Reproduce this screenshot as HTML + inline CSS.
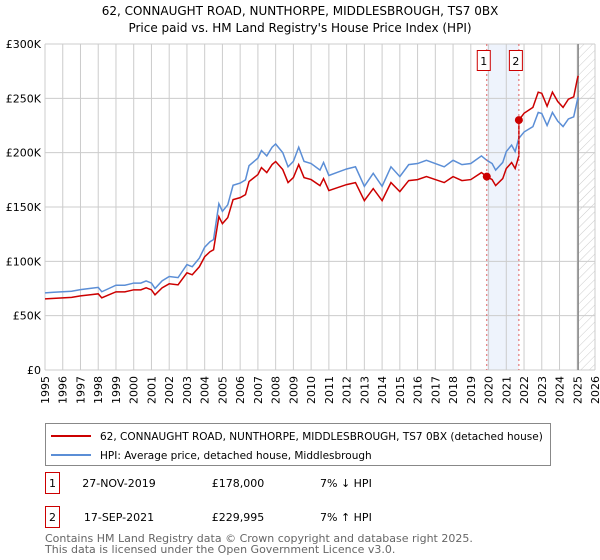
<!DOCTYPE html>
<html><head><meta charset="utf-8"><style>
body{margin:0;background:#fff;}
svg{display:block;font-family:"DejaVu Sans","Liberation Sans",sans-serif;}
</style></head><body>
<svg width="600" height="560" viewBox="0 0 600 560">
<text x="300" y="15" text-anchor="middle" font-size="12">62, CONNAUGHT ROAD, NUNTHORPE, MIDDLESBROUGH, TS7 0BX</text>
<text x="300" y="32" text-anchor="middle" font-size="12">Price paid vs. HM Land Registry's House Price Index (HPI)</text>
<defs><pattern id="hatch" width="6" height="6" patternUnits="userSpaceOnUse" patternTransform="rotate(45)"><line x1="0" y1="0" x2="0" y2="6" stroke="#ccc" stroke-width="1"/></pattern></defs>
<g id="grid"></g>
<g id="marks"></g>
<g id="axes"></g>
<g>
<rect x="45.5" y="423.5" width="505" height="42" fill="#fff" stroke="#888"/>
<line x1="51" y1="436" x2="91" y2="436" stroke="#cc0000" stroke-width="2"/>
<text x="100" y="440" font-size="10.5">62, CONNAUGHT ROAD, NUNTHORPE, MIDDLESBROUGH, TS7 0BX (detached house)</text>
<line x1="51" y1="455" x2="91" y2="455" stroke="#5b8ed6" stroke-width="2"/>
<text x="100" y="459" font-size="10.5">HPI: Average price, detached house, Middlesbrough</text>
</g>
<g font-size="11">
<rect x="45.5" y="472.5" width="14" height="21" fill="#fff" stroke="#cc0000"/>
<text x="52.5" y="487" text-anchor="middle">1</text>
<text x="119" y="487" text-anchor="middle">27-NOV-2019</text>
<text x="238" y="487" text-anchor="middle">£178,000</text>
<text x="320" y="487">7% ↓ HPI</text>
<rect x="45.5" y="506.5" width="14" height="21" fill="#fff" stroke="#cc0000"/>
<text x="52.5" y="521" text-anchor="middle">2</text>
<text x="119" y="521" text-anchor="middle">17-SEP-2021</text>
<text x="238" y="521" text-anchor="middle">£229,995</text>
<text x="320" y="521">7% ↑ HPI</text>
</g>
<text x="45" y="542" font-size="11" fill="#666">Contains HM Land Registry data © Crown copyright and database right 2025.</text>
<text x="45" y="553" font-size="11" fill="#666">This data is licensed under the Open Government Licence v3.0.</text>
</svg>
<script>
const hpiYears=[1995,1995.5,1996,1996.5,1997,1997.5,1998,1998.2,1998.6,1999,1999.5,2000,2000.4,2000.7,2001,2001.2,2001.6,2002,2002.5,2003,2003.3,2003.7,2004,2004.3,2004.5,2004.8,2005,2005.3,2005.6,2006,2006.3,2006.5,2007,2007.2,2007.5,2007.8,2008,2008.4,2008.7,2009,2009.3,2009.6,2010,2010.5,2010.7,2011,2011.5,2012,2012.5,2013,2013.5,2014,2014.5,2015,2015.5,2016,2016.5,2017,2017.5,2018,2018.5,2019,2019.6,2019.9,2020.2,2020.4,2020.8,2021,2021.3,2021.5,2021.7,2022,2022.5,2022.8,2023,2023.3,2023.6,2023.9,2024.2,2024.5,2024.8,2025,2025.05];
const hpiValues=[71,71.5,72,72.5,74,75,76,72,75,78,78,80,80,82,80,75,82,86,85,97,95,103,113,118,120,153,146,152,170,172,175,188,195,202,197,205,208,200,187,192,205,192,190,184,191,179,182,185,187,169,181,169,187,178,189,190,193,190,187,193,189,190,197,193,190,184,191,201,207,201,213,219,224,237,236,225,237,229,224,231,233,248,251];
const saleYears=[2019.9,2021.71];
const salePrices=[178,229.995];
const yTicks=[0,50,100,150,200,250,300];
const yTickLabels=["£0","£50K","£100K","£150K","£200K","£250K","£300K"];
const xTicks=[1995,1996,1997,1998,1999,2000,2001,2002,2003,2004,2005,2006,2007,2008,2009,2010,2011,2012,2013,2014,2015,2016,2017,2018,2019,2020,2021,2022,2023,2024,2025,2026];

const X0=45,X1=595,Y0=370,Y1=44;
const xs=y=>X0+(y-1995)/(2026-1995)*(X1-X0);
const ys=v=>Y0-v/300*(Y0-Y1);
const NS="http://www.w3.org/2000/svg";
function mk(tag,attrs,parent){const e=document.createElementNS(NS,tag);for(const k in attrs)e.setAttribute(k,attrs[k]);parent.appendChild(e);return e;}
const grid=document.getElementById('grid'),marks=document.getElementById('marks'),axes=document.getElementById('axes');

let r=mk('rect',{x:xs(saleYears[0]),y:Y1,width:xs(saleYears[1])-xs(saleYears[0]),height:Y0-Y1,fill:'#eef3fc'},grid);


r=mk('rect',{x:xs(2025.05),y:Y1,width:X1-xs(2025.05),height:Y0-Y1,fill:'url(#hatch)'},grid);



xTicks.forEach(t=>{
 const l=mk('line',{x1:xs(t),x2:xs(t),y1:Y1,y2:Y0,stroke:'#ccc'},grid);
 
 
 const tx=mk('text',{x:0,y:0,'font-size':11,'text-anchor':'end',transform:`translate(${xs(t)+4},${Y0+6}) rotate(-90)`},axes);
 tx.textContent=t;
 
 
});
yTicks.forEach((t,i)=>{
 const l=mk('line',{x1:X0,x2:X1,y1:ys(t),y2:ys(t),stroke:'#ccc'},grid);
 
 
 const tx=mk('text',{x:X0-4,y:ys(t)+4,'font-size':11,'text-anchor':'end'},axes);
 tx.textContent=yTickLabels[i];
 
 
});
let nl=mk('line',{x1:xs(2025.05),x2:xs(2025.05),y1:Y1,y2:Y0,stroke:'#888','stroke-width':1.5},grid);



function hpiAt(y){for(let i=1;i<hpiYears.length;i++){if(y<=hpiYears[i]){const f=(y-hpiYears[i-1])/(hpiYears[i]-hpiYears[i-1]);return hpiValues[i-1]+f*(hpiValues[i]-hpiValues[i-1]);}}return hpiValues[hpiValues.length-1];}
const hp=mk('polyline',{points:hpiYears.map((y,i)=>xs(y)+','+ys(hpiValues[i])).join(' '),fill:'none',stroke:'#5b8ed6','stroke-width':1.5},marks);


const r1=salePrices[0]/hpiAt(saleYears[0]),r2=salePrices[1]/hpiAt(saleYears[1]);
const pts=[];
hpiYears.forEach((y,i)=>{if(y<saleYears[1])pts.push([y,hpiValues[i]*r1]);});
pts.push([saleYears[1],hpiAt(saleYears[1])*r1]);
pts.push([saleYears[1],salePrices[1]]);
hpiYears.forEach((y,i)=>{if(y>saleYears[1])pts.push([y,hpiValues[i]*r2]);});
const pl=mk('polyline',{points:pts.map(p=>xs(p[0])+','+ys(p[1])).join(' '),fill:'none',stroke:'#cc0000','stroke-width':1.5},marks);



saleYears.forEach((y,i)=>{
 const v=mk('line',{x1:xs(y),x2:xs(y),y1:Y1,y2:Y0,stroke:'#e06060','stroke-dasharray':'2,3'},marks);
 
 
 const c=mk('circle',{cx:xs(y),cy:ys(salePrices[i]),r:4,fill:'#cc0000'},marks);
 
 
 const b=mk('rect',{x:xs(y)-9.5,y:50.5,width:13,height:20,fill:'#fff',stroke:'#cc0000'},marks);
 
 
 const t=mk('text',{x:xs(y)-3,y:65,'font-size':11,'text-anchor':'middle'},marks);
 t.textContent=String(i+1);
 
 
});
</script>
</body></html>
